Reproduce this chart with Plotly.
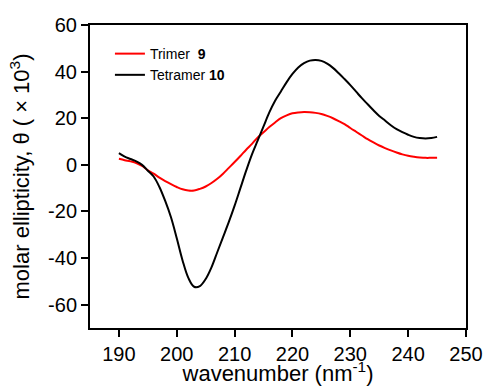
import plotly.graph_objects as go

wavelength = list(range(190, 246))

trimer_9 = [2.6, 2.0, 1.5, 0.8, -0.5, -2.3, -3.8, -5.5, -7.0, -8.3,
            -9.5, -10.5, -11.0, -11.0, -10.3, -9.3, -7.8, -6.0, -3.8, -1.3,
            1.2, 3.8, 6.5, 9.0, 11.8, 14.0, 16.2, 18.2, 20.0, 21.2,
            22.1, 22.5, 22.7, 22.6, 22.3, 21.8, 21.0, 20.0, 18.8, 17.5,
            15.8, 14.2, 12.6, 11.0, 9.6, 8.3, 7.2, 6.2, 5.3, 4.5,
            3.9, 3.5, 3.2, 3.0, 3.0, 3.0]

tetramer_10 = [5.0, 3.5, 2.5, 1.5, 0.0, -2.5, -5.0, -9.5, -15.5, -22.5,
               -31.5, -41.0, -48.5, -52.3, -52.0, -49.0, -44.0, -37.5, -31.0, -24.5,
               -17.5, -10.0, -2.5, 4.5, 10.5, 16.5, 22.5, 27.5, 31.5, 35.5,
               39.0, 41.8, 43.6, 44.7, 45.0, 44.6, 43.4, 41.6, 39.3, 36.8,
               34.2, 31.4, 28.6, 26.0, 23.4, 21.0, 19.0, 17.0, 15.3, 14.0,
               12.9, 12.0, 11.5, 11.3, 11.5, 12.0]

x_ticks = [190, 200, 210, 220, 230, 240, 250]
y_ticks = [-60, -40, -20, 0, 20, 40, 60]

fig = go.Figure()
fig.add_trace(go.Scatter(x=wavelength, y=trimer_9, mode="lines", line_shape="spline",
                         name="Trimer  <b>9</b>", line=dict(color="#ff0000", width=2)))
fig.add_trace(go.Scatter(x=wavelength, y=tetramer_10, mode="lines", line_shape="spline",
                         name="Tetramer <b>10</b>", line=dict(color="#000000", width=2)))

font_family = "Liberation Sans, Arial, sans-serif"

fig.update_layout(
    width=487, height=386,
    margin=dict(l=90, r=21, t=25, b=58, autoexpand=False),
    paper_bgcolor="white", plot_bgcolor="white",
    font=dict(family=font_family, color="black", size=20),
    showlegend=True,
    legend=dict(x=0.053, y=0.957, xanchor="left", yanchor="top",
                bgcolor="rgba(0,0,0,0)", font=dict(size=14, family=font_family)),
)

fig.update_xaxes(
    range=[185, 250], tickvals=x_ticks, ticktext=[str(v) for v in x_ticks],
    showline=True, linecolor="black", linewidth=2, mirror=True,
    ticks="outside", ticklen=7, tickwidth=2, tickcolor="black",
    showgrid=False, zeroline=False,
    tickfont=dict(size=20),
    title=dict(text="wavenumber (nm<sup>-1</sup>)", font=dict(size=22), standoff=2),
)
fig.update_yaxes(
    range=[-70, 60], tickvals=y_ticks, ticktext=[str(v) for v in y_ticks],
    showline=True, linecolor="black", linewidth=2, mirror=True,
    ticks="outside", ticklen=7, tickwidth=2, tickcolor="black",
    showgrid=False, zeroline=False,
    tickfont=dict(size=20),
    title=dict(text="molar ellipticity, θ ( × 10<sup>3</sup>)", font=dict(size=22), standoff=12),
)

fig.write_html("out.html", config={"displayModeBar": False},
               post_script="document.body.style.margin='0';document.body.style.overflow='hidden';")
